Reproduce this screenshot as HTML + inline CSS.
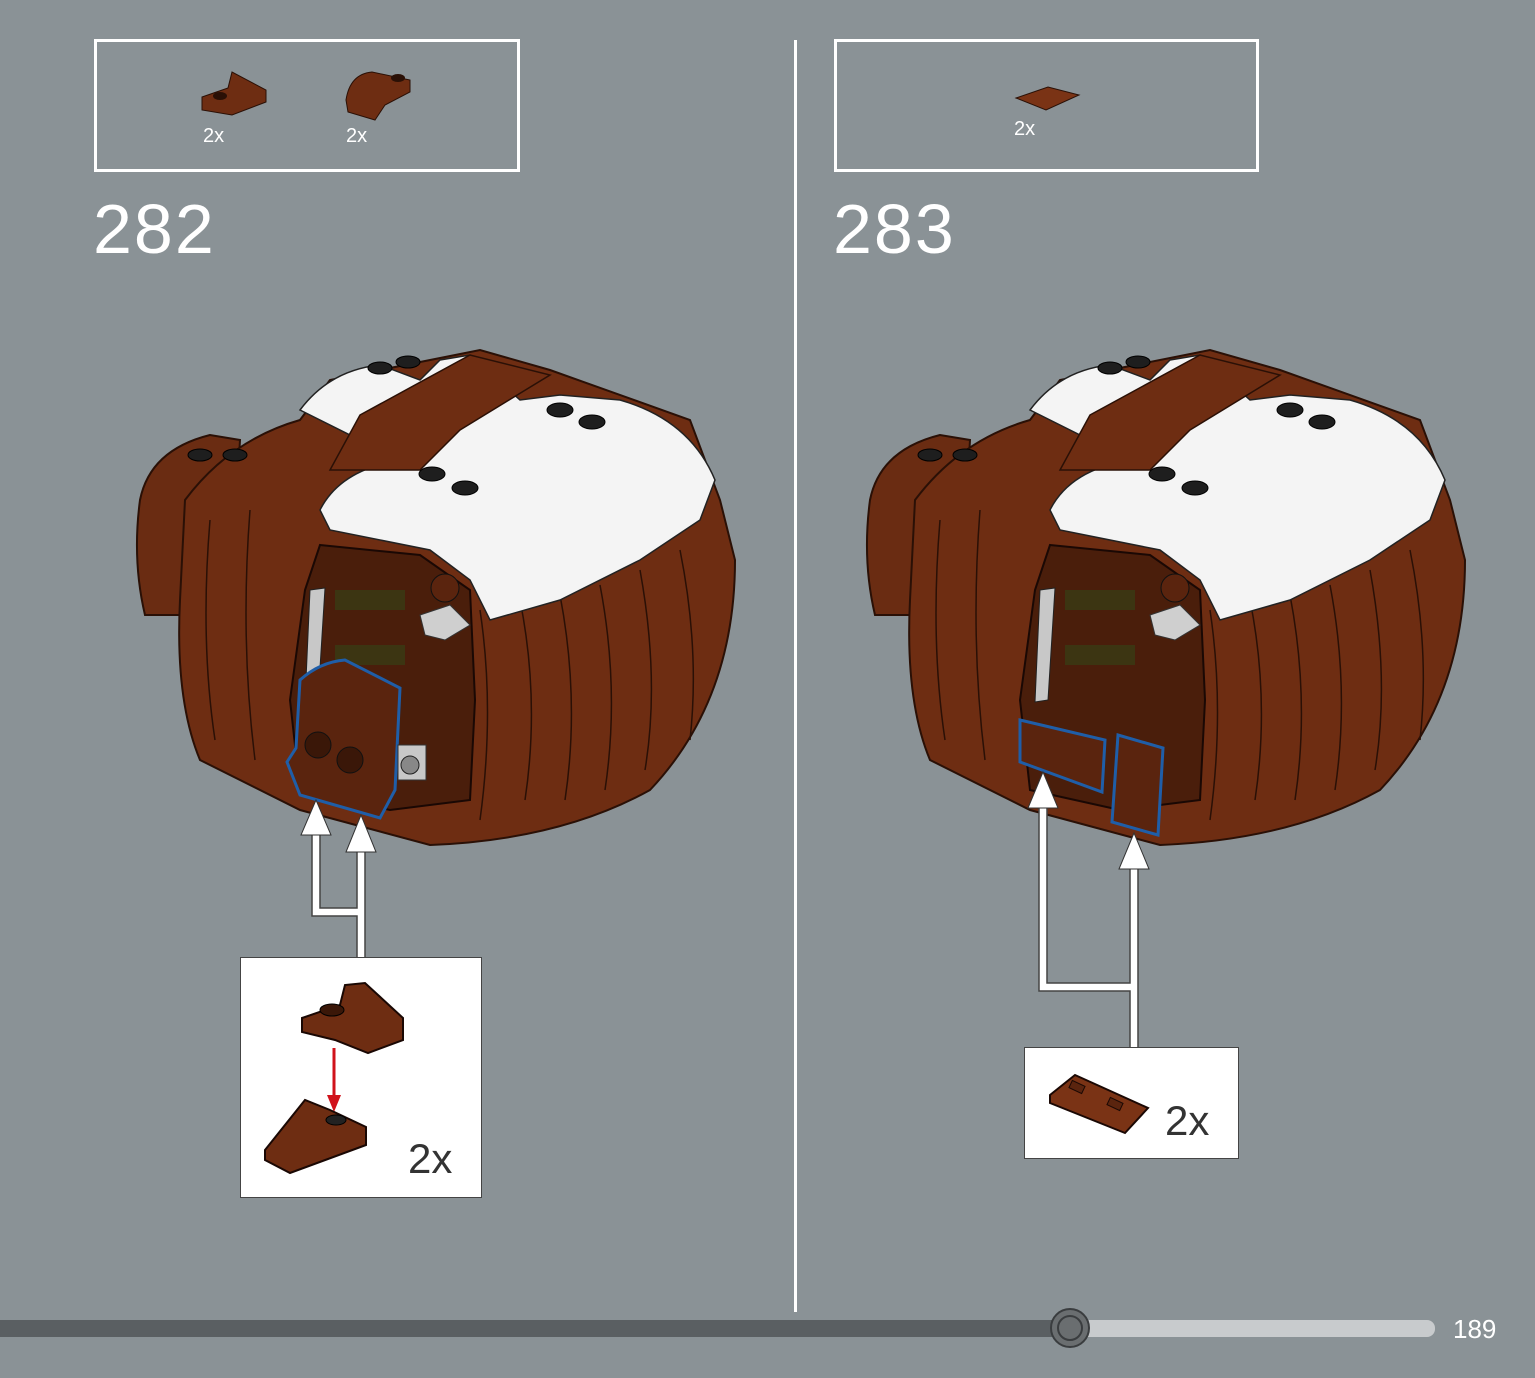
<!DOCTYPE html>
<html><head><meta charset="utf-8"><style>
html,body{margin:0;padding:0;background:#8a9296;}
svg{display:block}
text{font-family:"Liberation Sans",sans-serif;fill:#fff}
</style></head><body>
<svg width="1535" height="1378" viewBox="0 0 1535 1378" xmlns="http://www.w3.org/2000/svg">
<defs>
<g id="model">
  <!-- left flap -->
  <path d="M140,500 Q150,450 210,435 L240,440 L230,615 L145,615 Q132,560 140,500Z" fill="#6a2c12" stroke="#2a1006" stroke-width="2"/>
  <!-- main body -->
  <path d="M185,500 Q230,440 300,420 L330,380 L480,350 L550,370 L690,420 L720,500 L735,560 Q735,700 650,790 Q560,840 430,845 L300,810 L200,760 Q175,700 180,600Z" fill="#6e2d12" stroke="#2a1006" stroke-width="2"/>
  <!-- shading bands on right -->
  <g stroke="#2a1006" stroke-width="1.5" fill="none">
    <path d="M520,600 Q540,700 525,800"/><path d="M560,595 Q580,700 565,800"/>
    <path d="M600,585 Q620,690 605,790"/><path d="M640,570 Q660,680 645,770"/>
    <path d="M680,550 Q700,650 690,740"/><path d="M480,610 Q495,710 480,820"/>
    <path d="M210,520 Q200,640 215,740"/><path d="M250,510 Q240,640 255,760"/>
  </g>
  <!-- white top -->
  <path d="M300,410 Q330,370 380,365 L420,380 L440,360 L470,355 L520,400 L560,395 L620,400 Q690,420 715,480 L700,520 L640,560 L560,600 L490,620 L470,580 L430,550 L330,530 L320,510 Q340,470 400,460Z" fill="#f4f4f4" stroke="#222" stroke-width="1.5"/>
  <!-- brown strap over top -->
  <path d="M360,415 L470,355 L550,375 L460,430 L420,470 L330,470Z" fill="#6e2d12" stroke="#2a1006" stroke-width="1.5"/>
  <!-- studs -->
  <g fill="#1e1e1e" stroke="#000">
    <ellipse cx="380" cy="368" rx="12" ry="6"/><ellipse cx="408" cy="362" rx="12" ry="6"/>
    <ellipse cx="560" cy="410" rx="13" ry="7"/><ellipse cx="592" cy="422" rx="13" ry="7"/>
    <ellipse cx="432" cy="474" rx="13" ry="7"/><ellipse cx="465" cy="488" rx="13" ry="7"/>
    <ellipse cx="200" cy="455" rx="12" ry="6"/><ellipse cx="235" cy="455" rx="12" ry="6"/>
  </g>
  <!-- front dark section -->
  <path d="M320,545 L420,555 L470,590 L475,700 L470,800 L390,810 L300,790 L290,700 L305,590Z" fill="#4a1e0b" stroke="#1a0804" stroke-width="2"/>
  <rect x="335" y="590" width="70" height="20" fill="#3c3512"/>
  <rect x="335" y="645" width="70" height="20" fill="#3c3512"/>
  <path d="M310,590 L325,588 L318,700 L305,702Z" fill="#c8c8c8" stroke="#222"/>
  <circle cx="445" cy="588" r="14" fill="#5a240e" stroke="#111"/>
  <path d="M420,615 L450,605 L470,625 L445,640 L425,635Z" fill="#cfcfcf" stroke="#333"/>
</g>
</defs>

<!-- boxes -->
<rect x="95.5" y="40.5" width="423" height="130" fill="none" stroke="#fff" stroke-width="3"/>
<rect x="835.5" y="40.5" width="422" height="130" fill="none" stroke="#fff" stroke-width="3"/>
<line x1="795.5" y1="40" x2="795.5" y2="1312" stroke="#fff" stroke-width="3"/>

<!-- parts in boxes -->
<path d="M202,97 L228,88 L232,72 L266,90 L266,102 L232,115 L202,110Z" fill="#6e2d12" stroke="#2a1006"/>
<ellipse cx="220" cy="96" rx="7" ry="4" fill="#2a1006"/>
<text x="203" y="142" font-size="20">2x</text>
<path d="M346,100 Q350,74 372,72 L410,80 L410,92 L385,105 L375,120 L348,112Z" fill="#6e2d12" stroke="#2a1006"/>
<ellipse cx="398" cy="78" rx="7" ry="4" fill="#2a1006"/>
<text x="346" y="142" font-size="20">2x</text>
<path d="M1016,98 L1048,87 L1079,95 L1046,110Z" fill="#7a3315" stroke="#2a1006"/>
<text x="1014" y="135" font-size="20">2x</text>

<text x="93" y="253" font-size="70" font-weight="300" letter-spacing="2">282</text>
<text x="833" y="253" font-size="70" font-weight="300" letter-spacing="2">283</text>

<use href="#model"/>
<use href="#model" transform="translate(730,0)"/>

<!-- left highlight -->
<path d="M300,680 Q320,662 345,660 L400,688 L395,790 L380,818 L300,795 L287,762 L296,748Z" fill="#5a240e" stroke="#1f5ea8" stroke-width="3"/>
<circle cx="318" cy="745" r="13" fill="#3a1708" stroke="#111"/>
<circle cx="350" cy="760" r="13" fill="#3a1708" stroke="#111"/>
<rect x="398" y="745" width="28" height="35" fill="#c8c8c8" stroke="#333"/>
<circle cx="410" cy="765" r="9" fill="#888" stroke="#222"/>
<!-- right highlights -->
<path d="M1020,720 L1105,740 L1102,792 L1020,762Z" fill="#5a240e" stroke="#1f5ea8" stroke-width="3"/>
<path d="M1118,735 L1163,748 L1158,835 L1112,822Z" fill="#5a240e" stroke="#1f5ea8" stroke-width="3"/>

<!-- left arrows -->
<g fill="none" stroke="#fff" stroke-width="7">
<path d="M316,835 L316,912 L361,912 M361,850 L361,957"/>
</g>
<g fill="none" stroke="#444" stroke-width="1.5">
<path d="M312,835 L312,916 L357,916 L357,957 M365,850 L365,957 M320,835 L320,908 L357,908 L357,850"/>
</g>
<polygon points="316,800 301,835 331,835" fill="#fff" stroke="#333"/>
<polygon points="361,815 346,852 376,852" fill="#fff" stroke="#333"/>
<!-- right arrows -->
<g fill="none" stroke="#fff" stroke-width="7">
<path d="M1043,805 L1043,987 L1134,987 M1134,866 L1134,1047"/>
</g>
<g fill="none" stroke="#444" stroke-width="1.5">
<path d="M1039,805 L1039,991 L1130,991 L1130,1047 M1138,866 L1138,1047 M1047,805 L1047,983 L1130,983 L1130,866"/>
</g>
<polygon points="1043,772 1028,808 1058,808" fill="#fff" stroke="#333"/>
<polygon points="1134,833 1119,869 1149,869" fill="#fff" stroke="#333"/>

<!-- callouts -->
<rect x="240.5" y="957.5" width="241" height="240" fill="#fff" stroke="#444"/>
<path d="M302,1018 L340,1005 L345,985 L365,983 L403,1018 L403,1040 L368,1053 L335,1040 L302,1032Z" fill="#6e2d12" stroke="#1a0804" stroke-width="2"/>
<ellipse cx="332" cy="1010" rx="12" ry="6" fill="#3a1708" stroke="#000"/>
<line x1="334" y1="1048" x2="334" y2="1098" stroke="#d0121b" stroke-width="3"/>
<polygon points="327,1095 341,1095 334,1112" fill="#d0121b"/>
<path d="M265,1150 L305,1100 L330,1110 L366,1127 L366,1145 L290,1173 L265,1160Z" fill="#6e2d12" stroke="#1a0804" stroke-width="2"/>
<ellipse cx="336" cy="1120" rx="10" ry="5" fill="#222" stroke="#000"/>
<text x="408" y="1173" font-size="42" style="fill:#333" font-weight="300">2x</text>

<rect x="1024.5" y="1047.5" width="214" height="111" fill="#fff" stroke="#444"/>
<path d="M1050,1095 L1075,1075 L1148,1108 L1125,1133 L1050,1103Z" fill="#7a3315" stroke="#1a0804" stroke-width="2"/>
<rect x="1070" y="1083" width="14" height="8" fill="#5a240e" stroke="#1a0804" transform="rotate(25 1077 1087)"/>
<rect x="1108" y="1100" width="14" height="8" fill="#5a240e" stroke="#1a0804" transform="rotate(25 1115 1104)"/>
<text x="1165" y="1135" font-size="42" style="fill:#333" font-weight="300">2x</text>

<!-- progress -->
<rect x="0" y="1320" width="1070" height="17" fill="#5a5f62"/>
<rect x="1070" y="1320" width="365" height="17" rx="8" fill="#c8cbcd"/>
<circle cx="1070" cy="1328" r="19" fill="#6a6e70" stroke="#3a3d3f" stroke-width="2"/>
<circle cx="1070" cy="1328" r="12" fill="#6a6e70" stroke="#3a3d3f" stroke-width="2"/>
<text x="1453" y="1338" font-size="26">189</text>
</svg>
</body></html>
